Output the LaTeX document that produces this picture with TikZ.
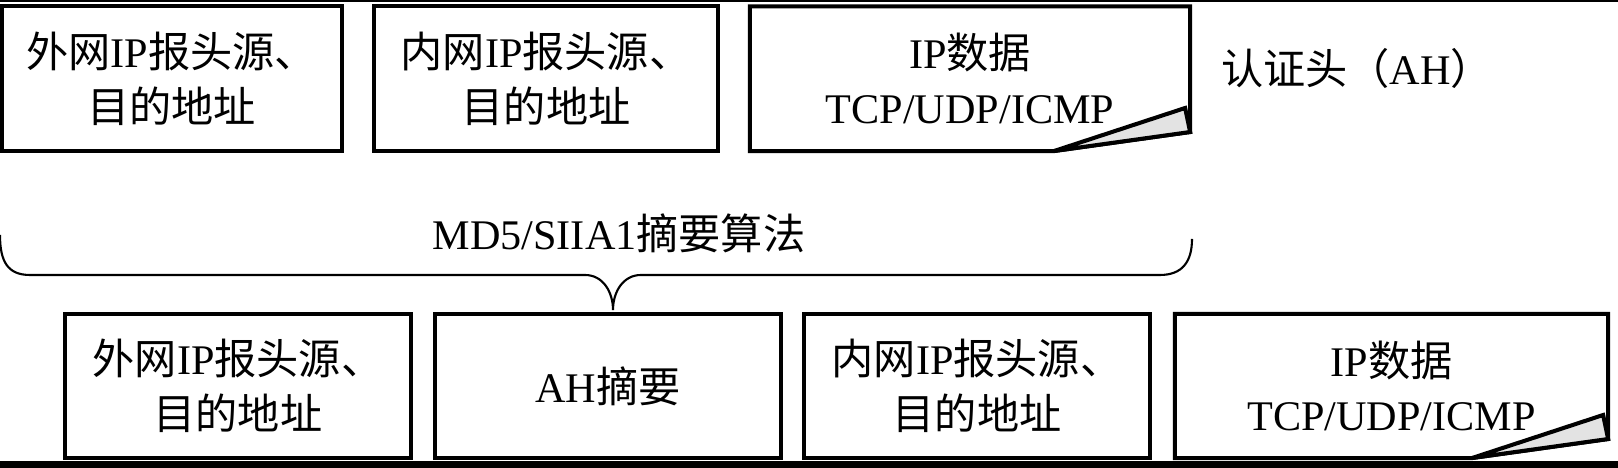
\documentclass[tikz,border=0pt]{standalone}
\usepackage{fontspec}
\setmainfont{Liberation Serif}
\newfontfamily\cjkfont{Noto Sans CJK SC}
\newcommand{\zhtext}[1]{{\cjkfont #1}}

\tikzset{
	txt/.style={inner sep=0pt, outer sep=0pt, align=center, font=\fontsize{12}{15.6}\selectfont},
	field/.style={txt, draw, line width=1.15pt, minimum height=1.445cm},
	frame/.style={line width=1.15pt, line join=miter},
	flap/.style={frame, fill=gray!22},
	bracket/.style={line width=0.6pt}
}

\begin{document}
\begin{tikzpicture}[x=0.01cm, y=-0.01cm]

	\useasboundingbox (0,0) rectangle (1618,468);

	% Edges of the scan
	\fill (0,0) rectangle (1618,1.6);
	\fill (0,461) rectangle (1618,468);

	% Coordinates
	\coordinate (Bleft) at (0,235);
	\coordinate (Btip) at (613,310);
	\coordinate (Bright) at (1192,239);

	% Original packet
	\node[field, minimum width=3.4cm] (Otop) at (171.75,78.75)
		{\zhtext{外网}IP\zhtext{报头源、}\\\zhtext{目的地址}};
	\node[field, minimum width=3.44cm] (Itop) at (546,78.75)
		{\zhtext{内网}IP\zhtext{报头源、}\\\zhtext{目的地址}};
	\node[txt, minimum width=4.4cm, minimum height=1.445cm] (Ptop) at (970,78.75)
		{IP\zhtext{数据}\\TCP/UDP/ICMP};
	\node[txt] (AHlabel) at (1357,68) {\zhtext{认证头（}AH\zhtext{）}};

	% Packet with AH
	\node[field, minimum width=3.46cm, minimum height=1.44cm] (Obot) at (238,386)
		{\zhtext{外网}IP\zhtext{报头源、}\\\zhtext{目的地址}};
	\node[field, minimum width=3.46cm, minimum height=1.44cm] (Abot) at (608,386)
		{AH\zhtext{摘要}};
	\node[field, minimum width=3.46cm, minimum height=1.44cm] (Ibot) at (977,386)
		{\zhtext{内网}IP\zhtext{报头源、}\\\zhtext{目的地址}};
	\node[txt, minimum width=4.33cm, minimum height=1.44cm] (Pbot) at (1391.5,386)
		{IP\zhtext{数据}\\TCP/UDP/ICMP};

	% Folded corners
	\foreach \f in {Ptop,Pbot}{
		\draw[frame] (\f.north west) -- (\f.north east)
			-- ([yshift=0.19cm]\f.south east) -- ([xshift=-1.36cm]\f.south east)
			-- (\f.south west) -- cycle;
		\draw[flap] ([xshift=-1.36cm]\f.south east)
			-- ([xshift=-0.05cm, yshift=0.43cm]\f.south east)
			-- ([yshift=0.19cm]\f.south east) -- cycle;
	}

	% Digest bracket
	\draw[bracket] (Bleft) .. controls (0,262) and (8,275) .. (30,275)
		-- (585,275) .. controls (603,275) and (613,292) .. (Btip)
		.. controls (613,292) and (623,275) .. (641,275)
		-- (1160,275) .. controls (1182,275) and (1192,262) .. (Bright);
	\node[txt] (Alg) at (619,233) {MD5/SIIA1\zhtext{摘要算法}};

\end{tikzpicture}
\end{document}
